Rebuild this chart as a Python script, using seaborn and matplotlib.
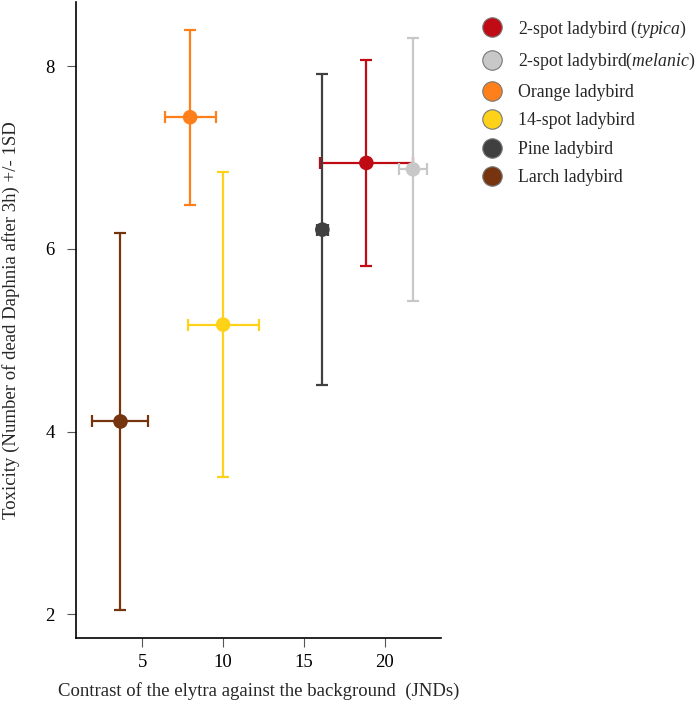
import pandas as pd
import numpy as np
import matplotlib.pyplot as plt
import seaborn as sns
from matplotlib.lines import Line2D

# data
species = ["2-spot ladybird (typica)", "2-spot ladybird (melanic)", "Orange ladybird",
           "14-spot ladybird", "Pine ladybird", "Larch ladybird"]
labels = [r"2-spot ladybird ($\it{typica}$)", r"2-spot ladybird($\it{melanic}$)",
          "Orange ladybird", "14-spot ladybird", "Pine ladybird", "Larch ladybird"]
contrast = [18.85, 21.73, 7.96, 10.0, 16.13, 3.66]
contrast_sd = [2.87, 0.87, 1.58, 2.19, 0.34, 1.73]
toxicity = [6.94, 6.87, 7.44, 5.17, 6.21, 4.11]
toxicity_sd = [1.13, 1.44, 0.96, 1.67, 1.70, 2.06]
colors = ["#c00a14", "#c8c8c8", "#ff7f1a", "#ffd21a", "#404040", "#76340f"]

df = pd.DataFrame({"species": species, "contrast": contrast, "contrast_sd": contrast_sd,
                   "toxicity": toxicity, "toxicity_sd": toxicity_sd})

sns.set_style("ticks")
plt.rcParams["font.family"] = ["Liberation Serif", "DejaVu Serif"]
plt.rcParams["mathtext.fontset"] = "custom"
plt.rcParams["mathtext.rm"] = "Liberation Serif"
plt.rcParams["mathtext.it"] = "Liberation Serif:italic"

fig = plt.figure(figsize=(7, 7.05), dpi=100)
ax = fig.add_axes([0.109, 0.095, 0.521, 0.902])

for i, row in df.iterrows():
    ax.errorbar(row["contrast"], row["toxicity"], xerr=row["contrast_sd"], yerr=row["toxicity_sd"],
                fmt="none", ecolor=colors[i], elinewidth=1.6, capsize=4, capthick=1.6, zorder=2)

sns.scatterplot(data=df, x="contrast", y="toxicity", hue="species", palette=colors,
                s=110, edgecolor="none", legend=False, ax=ax, zorder=3)

ax.set_xlim(0.93, 23.46)
ax.set_ylim(1.74, 8.7)
ax.set_xticks([5, 10, 15, 20])
ax.set_yticks([2, 4, 6, 8])
ax.tick_params(labelsize=13.5, length=6.5, width=0.8, colors="#555555", labelcolor="black")
ax.tick_params(axis="x", pad=5)
ax.tick_params(axis="y", pad=9)
sns.despine(ax=ax)
for s in ["left", "bottom"]:
    ax.spines[s].set_linewidth(1.2)
    ax.spines[s].set_color("black")

ax.set_xlabel("Contrast of the elytra against the background  (JNDs)", fontsize=13.5, labelpad=8)
ax.set_ylabel("Toxicity (Number of dead Daphnia after 3h) +/- 1SD", fontsize=13.5, labelpad=18)

handles = [Line2D([], [], marker="o", linestyle="none", markersize=14,
                  markerfacecolor=c, markeredgecolor="#777777", markeredgewidth=0.8)
           for c in colors]
fig.legend(handles, labels, loc="upper left", bbox_to_anchor=(0.667, 0.984), frameon=False,
           fontsize=12.8, handletextpad=0.5, labelspacing=0.65, borderaxespad=0)

fig.savefig("out.png", dpi=100)
